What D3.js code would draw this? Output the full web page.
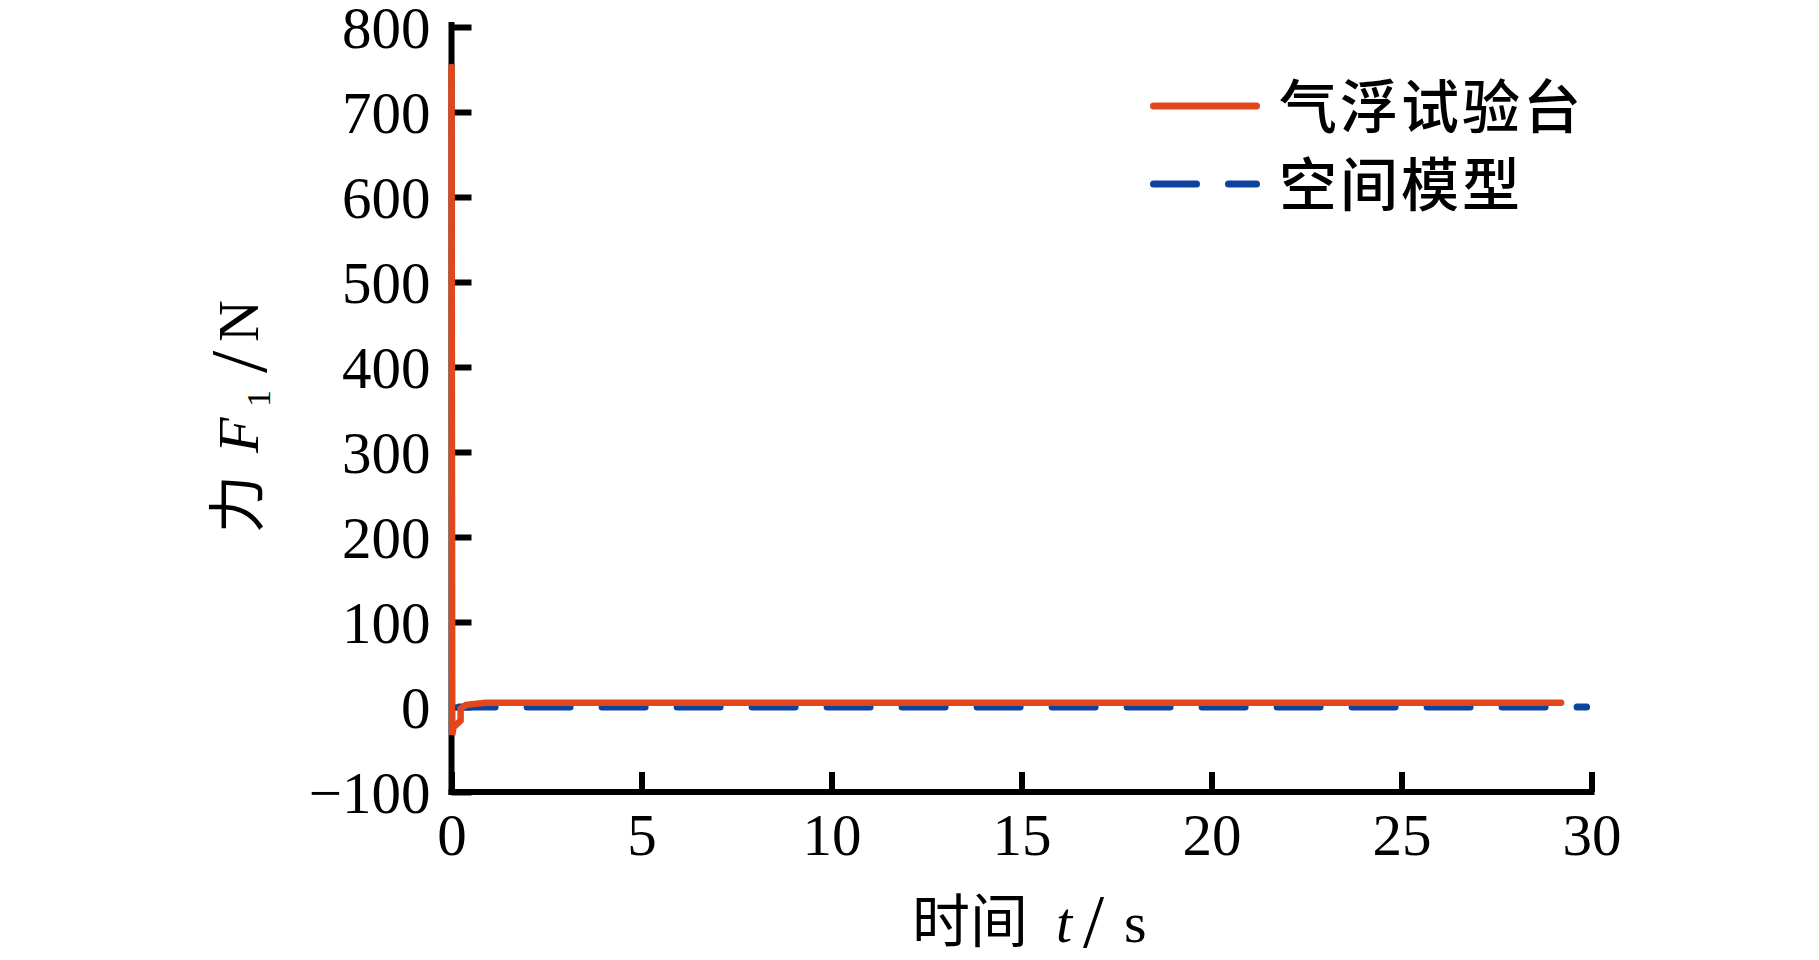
<!DOCTYPE html>
<html>
<head>
<meta charset="utf-8">
<script src="https://cdn.jsdelivr.net/npm/d3@7"></script>
<style>
  html, body { margin: 0; padding: 0; background: #fff; }
  svg { display: block; }
</style>
</head>
<body>
<svg id="chart" width="1819" height="960"></svg>
<script>
// ---- data ----
const xTicks = [0, 5, 10, 15, 20, 25, 30];
const yTicks = [-100, 0, 100, 200, 300, 400, 500, 600, 700, 800];
const seriesNames = ["气浮试验台", "空间模型"];
const seriesColors = ["#E2461B", "#0C439E"];
// 气浮试验台 (air-bearing test bed)
const airT = [0, 0.02, 0.05, 0.24, 0.24, 0.38, 0.9, 29.2];
const airF = [753, -33, -24, -16, -2, 2.5, 5, 5];
// 空间模型 (space model)
const spaceT = [0.2, 29.87];
const spaceF = [0, 0];

// ---- layout ----
const svg = d3.select("#chart");
const x0 = 451.5, x1 = 1591.5, yTop = 27, yBot = 792;
const x = d3.scaleLinear().domain([0, 30]).range([x0, x1]);
const y = d3.scaleLinear().domain([-100, 800]).range([yBot, yTop]);

const serif = "'Liberation Serif', 'Times New Roman', serif";
const cjk = "'Noto Sans CJK SC', sans-serif";

const line = d3.line().x(d => x(d[0])).y(d => y(d[1]));

// axes
const yAxis = d3.axisLeft(y).tickValues(yTicks).tickSize(-20).tickPadding(21);
const xAxis = d3.axisBottom(x).tickValues(xTicks).tickSize(-20).tickPadding(21);

const gy = svg.append("g").attr("transform", `translate(${x0},0)`).call(yAxis);
const gx = svg.append("g").attr("transform", `translate(0,${yBot})`).call(xAxis);
[gx, gy].forEach(g => {
  g.select(".domain").attr("stroke", "#000").attr("stroke-width", 6).attr("stroke-linecap", "square");
  g.selectAll(".tick line").attr("stroke", "#000").attr("stroke-width", 6);
  g.selectAll(".tick text").attr("fill", "#000").attr("font-family", serif).attr("font-size", 59);
});
gy.selectAll(".tick text").attr("dy", "0.34em");
gy.select(".domain").attr("d", `M0,${yBot}V${yTop - 2}`);
gx.select(".domain").attr("d", `M${x0},0H${x1}`);

// space model (dashed)
svg.append("path")
  .datum(spaceT.map((t, i) => [t, spaceF[i]]))
  .attr("d", line)
  .attr("fill", "none")
  .attr("stroke", seriesColors[1])
  .attr("stroke-width", 7)
  .attr("stroke-linecap", "round")
  .attr("stroke-dasharray", "43,32")
  .attr("stroke-dashoffset", 7);

// air-bearing test bed (solid)
svg.append("path")
  .datum(airT.map((t, i) => [t, airF[i]]))
  .attr("d", line)
  .attr("fill", "none")
  .attr("stroke", seriesColors[0])
  .attr("stroke-width", 6.5)
  .attr("stroke-linejoin", "miter")
  .attr("stroke-linecap", "round");

// legend
const legend = svg.append("g");
const legY = [106, 184];
seriesNames.forEach((name, i) => {
  legend.append("line")
    .attr("x1", 1153.5).attr("x2", 1256.5)
    .attr("y1", legY[i]).attr("y2", legY[i])
    .attr("stroke", seriesColors[i])
    .attr("stroke-width", 7)
    .attr("stroke-linecap", "round")
    .attr("stroke-dasharray", i === 1 ? "43,32" : null);
  legend.append("text")
    .attr("x", 1279).attr("y", legY[i] + 22)
    .attr("font-family", cjk).attr("font-size", 58)
    .attr("font-weight", 500)
    .attr("letter-spacing", 3)
    .attr("fill", "#000")
    .text(name);
});

// x-axis title
const xt = svg.append("text")
  .attr("x", 912).attr("y", 942)
  .attr("font-size", 58).attr("fill", "#000");
xt.append("tspan").attr("font-family", cjk).text("时间");
xt.append("tspan").attr("x", 1056).attr("font-family", serif).attr("font-style", "italic").text("t");
xt.append("tspan").attr("x", 1083).attr("dy", 5).attr("font-family", serif).attr("font-size", 76).text("/");
xt.append("tspan").attr("x", 1124).attr("dy", -5).attr("font-family", serif).text("s");

// y-axis title (rotated)
const yt = svg.append("text")
  .attr("transform", "translate(258,533) rotate(-90)")
  .attr("font-size", 58).attr("fill", "#000");
yt.append("tspan").attr("x", 0).attr("font-family", cjk).text("力");
yt.append("tspan").attr("x", 80).attr("font-family", serif).attr("font-style", "italic").text("F");
yt.append("tspan").attr("x", 126).attr("dy", 12).attr("font-family", serif).attr("font-size", 34).text("1");
yt.append("tspan").attr("x", 160).attr("dy", -4).attr("font-family", serif).attr("font-size", 80).text("/");
yt.append("tspan").attr("x", 191).attr("dy", -8).attr("font-family", serif).text("N");
</script>
</body>
</html>
